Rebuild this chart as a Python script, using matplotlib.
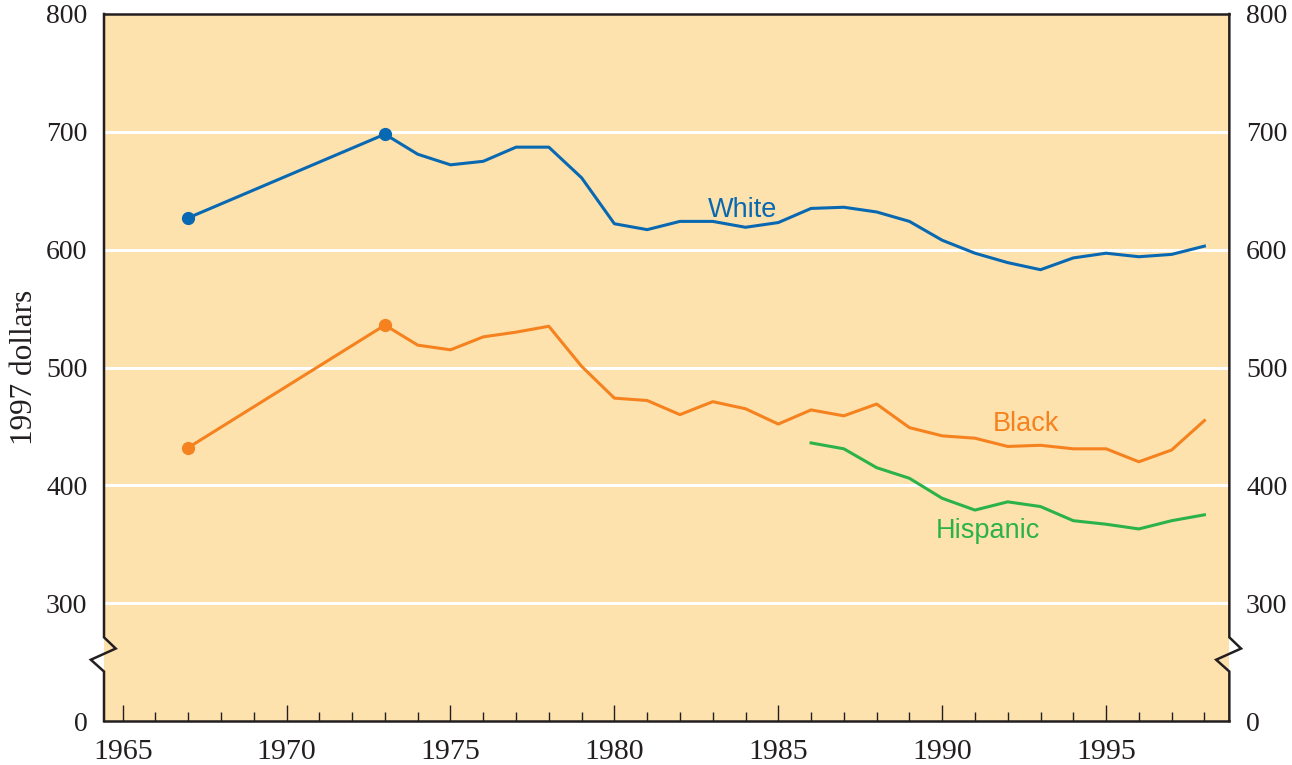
import numpy as np
import matplotlib.pyplot as plt
from matplotlib.ticker import MultipleLocator
import matplotlib.transforms as mtransforms

# weekly earnings, 1997 dollars
years_w = [1967, 1973, 1974, 1975, 1976, 1977, 1978, 1979, 1980, 1981, 1982,
           1983, 1984, 1985, 1986, 1987, 1988, 1989, 1990, 1991, 1992, 1993,
           1994, 1995, 1996, 1997, 1998]
white = [627, 698, 681, 672, 675, 687, 687, 661, 622, 617, 624, 624, 619, 623,
         635, 636, 632, 624, 608, 597, 589, 583, 593, 597, 594, 596, 603]
black = [432, 536, 519, 515, 526, 530, 535, 501, 474, 472, 460, 471, 465, 452,
         464, 459, 469, 449, 442, 440, 433, 434, 431, 431, 420, 430, 455]
years_h = [1986, 1987, 1988, 1989, 1990, 1991, 1992, 1993, 1994, 1995, 1996,
           1997, 1998]
hispanic = [436, 431, 415, 406, 389, 379, 386, 382, 370, 367, 363, 370, 375]

# the axis is broken: the bottom of the axis stands for 0, then 300..800
ytick_vals = [200, 300, 400, 500, 600, 700, 800]
ytick_labels = ['0', '300', '400', '500', '600', '700', '800']

blue = '#0868b2'
orange = '#f5821f'
green = '#2bb24a'
bg = '#fde2ad'
dark = '#231f20'

plt.rcParams['font.family'] = ['Liberation Serif', 'DejaVu Serif']

fig = plt.figure(figsize=(12.92, 7.65), dpi=100)
ax = fig.add_axes([0.0805, 0.0575, 0.871, 0.9242])
ax.set_facecolor(bg)

ax.set_xlim(1964.43, 1998.76)
ax.set_ylim(200, 800)

# gridlines
for v in ytick_vals[1:-1]:
    ax.axhline(v, color='white', lw=2.2, zorder=1)

ax.plot(years_w, white, color=blue, lw=2.2, zorder=3)
ax.plot(years_w[:2], white[:2], 'o', color=blue, ms=8.5, zorder=4)
ax.plot(years_w, black, color=orange, lw=2.2, zorder=3)
ax.plot(years_w[:2], black[:2], 'o', color=orange, ms=8.5, zorder=4)
ax.plot(years_h, hispanic, color=green, lw=2.2, zorder=3)

sans = ['Liberation Sans', 'DejaVu Sans']
ax.text(1983.9, 623, 'White', color=blue, fontsize=19.5, family=sans,
        ha='center', va='bottom')
ax.text(1992.55, 441, 'Black', color=orange, fontsize=19.5, family=sans,
        ha='center', va='bottom')
ax.text(1991.4, 350, 'Hispanic', color=green, fontsize=19.5, family=sans,
        ha='center', va='bottom')

# spines: left and right drawn by hand with a break mark
for s in ['left', 'right']:
    ax.spines[s].set_visible(False)
for s in ['top', 'bottom']:
    ax.spines[s].set_color(dark)
    ax.spines[s].set_linewidth(1.8)

trans = mtransforms.blended_transform_factory(ax.transAxes, ax.transData)
dx1, dx2 = 0.0104, 0.0117
for x0 in [0.0, 1.0]:
    xs = [x0, x0, x0 + dx1, x0 - dx2, x0, x0]
    ys = [800, 271, 261.5, 252, 242, 200]
    ax.plot(xs, ys, color=dark, lw=1.8, transform=trans, clip_on=False,
            solid_joinstyle='miter', zorder=5)

# x ticks
ax.xaxis.set_minor_locator(MultipleLocator(1))
ax.set_xticks(np.arange(1965, 1996, 5))
ax.tick_params(axis='x', which='major', direction='in', length=11.5, width=1.0,
               color=dark, labelsize=21.5, pad=13, top=False, labelcolor=dark)
ax.tick_params(axis='x', which='minor', direction='in', length=6.3, width=1.0,
               color=dark, top=False)

# y ticks on both sides
ax.set_yticks(ytick_vals)
ax.set_yticklabels(ytick_labels)
ax.tick_params(axis='y', which='both', length=0, labelsize=20, pad=12,
               left=True, right=True, labelleft=True, labelright=True,
               labelcolor=dark)

ax.set_ylabel('1997 dollars', fontsize=22.5, color=dark)
ax.yaxis.set_label_coords(-0.058, 0.5)

fig.savefig('out.png', dpi=100)
